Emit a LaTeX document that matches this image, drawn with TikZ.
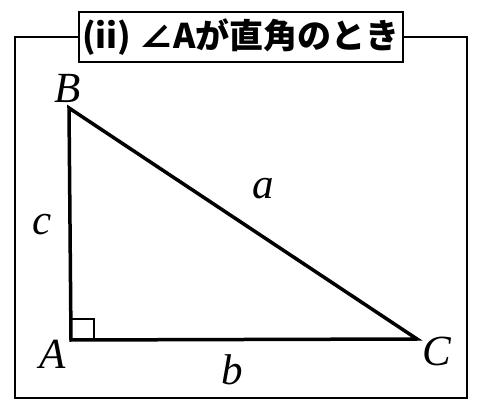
\documentclass[tikz,border=0pt]{standalone}
\usepackage{fontspec}
\setmainfont{Liberation Serif}
\newfontfamily\jpfont{Noto Sans CJK JP}
\usetikzlibrary{positioning}

\tikzset{
    vlabel/.style={font=\fontsize{43}{43}\selectfont\itshape, inner sep=0pt},
    titlebox/.style={draw, line width=2pt, fill=white, minimum width=324pt, minimum height=50pt, inner sep=0pt,
        font=\jpfont\bfseries\fontsize{34}{34}\selectfont}
}

\begin{document}
\begin{tikzpicture}[x=1pt, y=-1pt]
                \useasboundingbox (0,0) rectangle (484,411);
                % outer frame
                \draw[line width=2pt] (15,37) rectangle (467,398);

                \coordinate (A) at (71,340);
                \coordinate (B) at (69,108);
                \coordinate (C) at (417,339);

                \draw[line width=3.5pt, line join=miter] (A) -- (B) -- (C) -- cycle;
                \draw[line width=1.5pt] (A) ++(0,-21) -| ++(23,21);

                \node[vlabel] (lA) at (53,354) {A};
                \node[vlabel] (lB) at (68,88) {B};
                \node[vlabel] (lC) at (437,351) {C};
                \node[vlabel] (la) at (263,189) {a};
                \node[vlabel] (lb) at (232,370) {b};
                \node[vlabel] (lc) at (42,225) {c};

                \node[titlebox] (title) at (241,37) {(ii) ∠Aが直角のとき};
            \end{tikzpicture}
\end{document}
